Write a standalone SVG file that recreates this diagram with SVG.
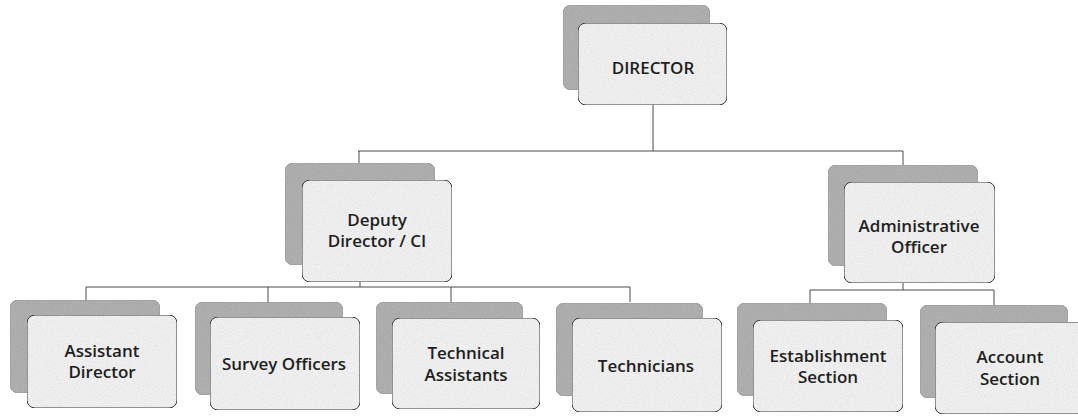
<svg xmlns="http://www.w3.org/2000/svg" width="1078" height="416" viewBox="0 0 1078 416">
  <defs>
    <filter id="grain" x="0" y="0" width="100%" height="100%">
      <feTurbulence type="fractalNoise" baseFrequency="0.9" numOctaves="2" seed="3" result="n"/>
      <feColorMatrix in="n" type="matrix" values="0 0 0 0 0  0 0 0 0 0  0 0 0 0 0  0 0 0 0.25 -0.06" result="dots"/>
      <feComposite in="dots" in2="SourceGraphic" operator="in" result="d2"/>
      <feMerge><feMergeNode in="SourceGraphic"/><feMergeNode in="d2"/></feMerge>
    </filter>
  </defs>
  <style>
    .shadow { fill: #b2b2b2; stroke: #999999; stroke-width: 0.8; }
    .front { fill: #f4f4f4; stroke: #3a3a3a; stroke-width: 1; }
    .conn { stroke: #4a4a4a; stroke-width: 1; fill: none; }
    .lbl { font-family: "Open Sans", "Liberation Sans", sans-serif; font-weight: 600; font-size: 17px; fill: #1e1e1e; text-anchor: middle; }
  </style>
  <rect width="1078" height="416" fill="#ffffff"/>

  <g id="connectors">
    <path class="conn" d="M653 105 V151 M358 151 H903 M359 151 V163 M903 151 V165"/>
    <path class="conn" d="M360 282 V287 M86 287 H630 M86 287 V300 M268 287 V302 M451 287 V302 M630 287 V302"/>
    <path class="conn" d="M903 283 V290 M810 290 H994 M810 290 V303 M994 290 V305"/>
  </g>

  <g id="director">
    <rect class="shadow" filter="url(#grain)" x="563" y="5" width="147" height="85" rx="8"/>
    <rect class="front" filter="url(#grain)" x="578" y="23" width="149" height="82" rx="8"/>
    <text class="lbl" x="653" y="74">DIRECTOR</text>
  </g>

  <g id="deputy-director">
    <rect class="shadow" filter="url(#grain)" x="285" y="163" width="150" height="102" rx="8"/>
    <rect class="front" filter="url(#grain)" x="302" y="180" width="150" height="102" rx="8"/>
    <text class="lbl" x="377" y="226">Deputy</text>
    <text class="lbl" x="377" y="247">Director / CI</text>
  </g>

  <g id="administrative-officer">
    <rect class="shadow" filter="url(#grain)" x="828" y="165" width="150" height="101" rx="8"/>
    <rect class="front" filter="url(#grain)" x="844" y="182" width="151" height="101" rx="8"/>
    <text class="lbl" x="919" y="232">Administrative</text>
    <text class="lbl" x="919" y="253">Officer</text>
  </g>

  <g id="assistant-director">
    <rect class="shadow" filter="url(#grain)" x="10" y="300" width="150" height="93" rx="8"/>
    <rect class="front" filter="url(#grain)" x="27" y="315" width="150" height="93" rx="8"/>
    <text class="lbl" x="102" y="357">Assistant</text>
    <text class="lbl" x="102" y="378">Director</text>
  </g>

  <g id="survey-officers">
    <rect class="shadow" filter="url(#grain)" x="195" y="302" width="148" height="93" rx="8"/>
    <rect class="front" filter="url(#grain)" x="210" y="317" width="150" height="93" rx="8"/>
    <text class="lbl" x="284" y="370">Survey Officers</text>
  </g>

  <g id="technical-assistants">
    <rect class="shadow" filter="url(#grain)" x="376" y="302" width="147" height="92" rx="8"/>
    <rect class="front" filter="url(#grain)" x="392" y="318" width="148" height="91" rx="8"/>
    <text class="lbl" x="466" y="359">Technical</text>
    <text class="lbl" x="466" y="381">Assistants</text>
  </g>

  <g id="technicians">
    <rect class="shadow" filter="url(#grain)" x="556" y="303" width="147" height="93" rx="8"/>
    <rect class="front" filter="url(#grain)" x="572" y="318" width="150" height="94" rx="8"/>
    <text class="lbl" x="646" y="372">Technicians</text>
  </g>

  <g id="establishment-section">
    <rect class="shadow" filter="url(#grain)" x="737" y="303" width="150" height="93" rx="8"/>
    <rect class="front" filter="url(#grain)" x="753" y="320" width="150" height="92" rx="8"/>
    <text class="lbl" x="828" y="362">Establishment</text>
    <text class="lbl" x="828" y="383">Section</text>
  </g>

  <g id="account-section">
    <rect class="shadow" filter="url(#grain)" x="920" y="305" width="148" height="93" rx="8"/>
    <rect class="front" filter="url(#grain)" x="935" y="322" width="150" height="92" rx="8"/>
    <text class="lbl" x="1010" y="363">Account</text>
    <text class="lbl" x="1010" y="385">Section</text>
  </g>
</svg>
